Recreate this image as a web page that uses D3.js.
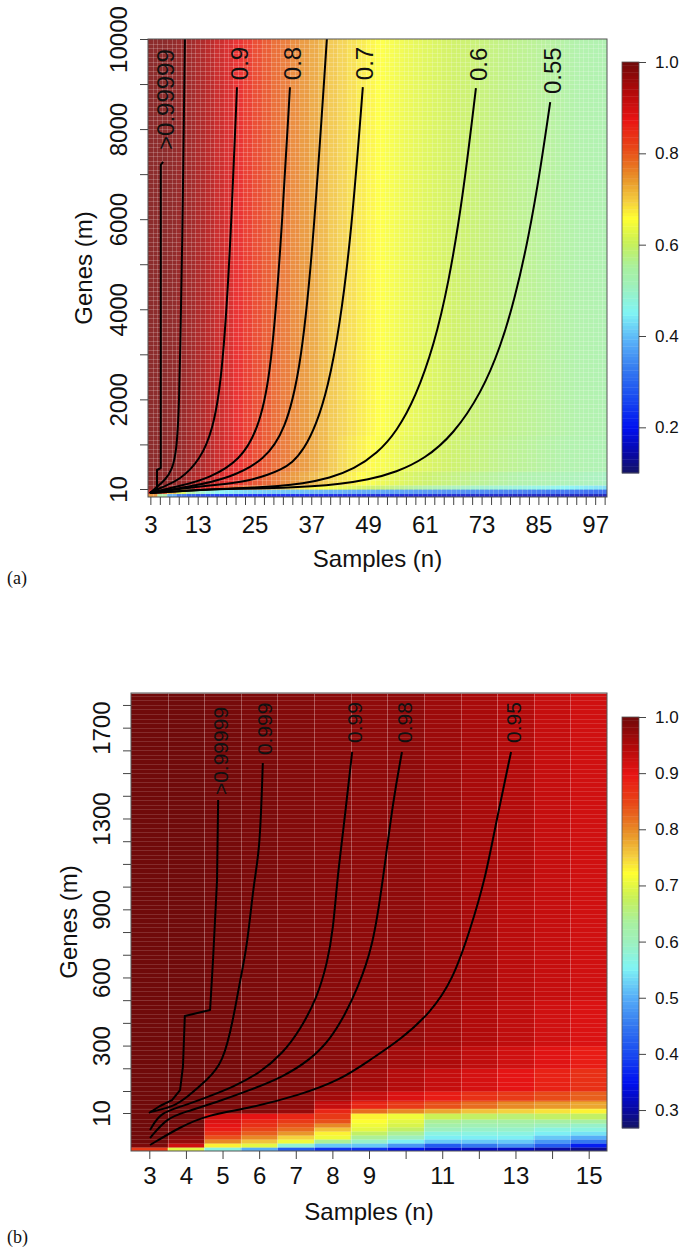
<!DOCTYPE html>
<html>
<head>
<meta charset="utf-8">
<script src="https://cdn.jsdelivr.net/npm/d3@7/dist/d3.min.js"></script>
<style>
html,body{margin:0;padding:0;background:#fff;}
svg{display:block;}
text{font-family:"Liberation Sans",Arial,Helvetica,sans-serif;fill:#111;}
</style>
</head>
<body>
<svg id="chart" width="683" height="1254"></svg>
<script>
// ================= DATA : panel (a) =================
const aSamples = [3,5,7,9,11,13,15,17,19,21,23,25,27,29,31,33,35,37,39,41,43,45,47,49,51,53,55,57,59,61,63,65,67,69,71,73,75,77,79,81,83,85,87,89,91,93,95,97,99];
const aRowEdges = [1,5,10,100,400,1200,10000];
const aRow_1_5 = [0.75,0.55,0.38,0.3,0.26,0.24,0.23,0.22,0.215,0.21,0.21,0.205,0.2,0.2,0.2,0.195,0.195,0.19,0.19,0.19,0.185,0.185,0.185,0.18,0.18,0.18,0.18,0.175,0.175,0.175,0.17,0.17,0.17,0.17,0.165,0.165,0.165,0.165,0.16,0.16,0.16,0.16,0.16,0.155,0.155,0.155,0.155,0.15,0.15];
const aRow_5_10 = [0.9,0.82,0.72,0.62,0.55,0.5,0.47,0.45,0.44,0.43,0.42,0.415,0.41,0.405,0.4,0.4,0.395,0.39,0.385,0.38,0.38,0.375,0.37,0.37,0.365,0.36,0.36,0.355,0.35,0.35,0.345,0.34,0.34,0.335,0.33,0.33,0.325,0.32,0.32,0.315,0.31,0.31,0.305,0.3,0.3,0.295,0.29,0.29,0.285];
const aRow_10_100 = [0.98,0.97,0.96,0.94,0.92,0.9,0.87,0.85,0.82,0.8,0.78,0.76,0.74,0.72,0.7,0.69,0.675,0.665,0.655,0.645,0.635,0.625,0.615,0.605,0.595,0.585,0.575,0.565,0.555,0.545,0.535,0.525,0.515,0.505,0.5,0.495,0.49,0.485,0.48,0.475,0.47,0.465,0.46,0.455,0.45,0.445,0.44,0.435,0.43];
const aRow_100_400 = [0.99,0.985,0.98,0.97,0.955,0.94,0.92,0.9,0.88,0.86,0.84,0.82,0.8,0.78,0.765,0.75,0.735,0.72,0.705,0.69,0.68,0.67,0.66,0.65,0.64,0.632,0.625,0.617,0.61,0.603,0.596,0.59,0.584,0.578,0.572,0.567,0.562,0.557,0.552,0.547,0.543,0.539,0.535,0.531,0.527,0.523,0.519,0.515,0.51];
const aRow_400_1200 = [0.99,0.99,0.985,0.975,0.965,0.95,0.935,0.915,0.895,0.875,0.855,0.835,0.815,0.795,0.78,0.765,0.75,0.735,0.72,0.705,0.69,0.68,0.67,0.66,0.652,0.645,0.638,0.631,0.625,0.619,0.613,0.607,0.601,0.595,0.59,0.585,0.58,0.575,0.571,0.567,0.563,0.559,0.555,0.551,0.547,0.544,0.541,0.538,0.535];
const aRow_1200_10000 = [0.99,0.99,0.985,0.975,0.965,0.95,0.935,0.915,0.895,0.875,0.855,0.835,0.815,0.795,0.78,0.765,0.75,0.735,0.72,0.705,0.695,0.685,0.675,0.665,0.657,0.65,0.643,0.636,0.63,0.624,0.618,0.612,0.606,0.6,0.595,0.59,0.585,0.58,0.576,0.572,0.568,0.564,0.56,0.556,0.552,0.548,0.545,0.542,0.54];
const aXLabels = [3,13,25,37,49,61,73,85,97];
const aYTicks = [10,1000,2000,3000,4000,5000,6000,7000,8000,9000,10000];
const aYLabels = [10,2000,4000,6000,8000,10000];
const aLegendTicks = [0.2,0.4,0.6,0.8,1.0];
const aColorDomain = [0.1,1.0];
// contour lines of panel (a): [samples n, genes m]
const aC_gt99999 = [[2.9,5.5],[4.4,10],[4.4,432],[5.2,476],[5.2,7203],[5.7,7270]];
const aC_hidden1 = [[2.9,5.5],[4.4,54],[6.1,210],[7.6,432],[8.6,876],[9.1,1986],[9.3,3096],[9.7,5090],[10.3,10000]];
const aC_09 = [[2.9,5.5],[5.0,32],[9.3,210],[13.5,654],[16.2,1320],[18.1,2430],[19.8,5090],[21.3,8930]];
const aC_08 = [[2.9,5.5],[9.3,77],[15.6,254],[22.0,654],[25.7,1320],[28.3,2430],[30.4,5090],[32.5,8930]];
const aC_hidden2 = [[2.9,5.5],[11.4,60],[19.8,254],[27.2,654],[31.5,1320],[34.6,2600],[37.2,5090],[40.3,10000]];
const aC_07 = [[2.9,5.5],[9.3,20],[19.8,130],[24,200],[28,330],[30.5,440],[33,590],[35.5,900],[38,1420],[40.5,2250],[43,3600],[45.5,5700],[47.9,8930]];
const aC_06 = [[2.9,5.5],[17.7,17],[25,40],[30,71],[35,127],[41,254],[46,453],[51,806],[55,1280],[59,2030],[63,3222],[66,4560],[69,6450],[71.8,8910]];
const aC_055 = [[2.9,5.5],[13.5,9],[19,12],[25,21.5],[31,38],[37,68],[43,121],[49,215],[55,383],[61,681],[67,1212],[73,2155],[77,3166],[80,4224],[83,5625],[85.5,7151],[87.5,8600]];

// ================= DATA : panel (b) =================
const bSamples = [3,4,5,6,7,8,9,10,11,12,13,14,15];
const bRowEdges = [0.5,1.5,2.5,3.5,4.5,5.5,6.5,7.5,8.5,10,30,60,100,200,300,500,1000,1850];
const bRow_m1 = [0.86,0.70,0.57,0.50,0.42,0.38,0.38,0.35,0.33,0.32,0.32,0.30,0.29];
const bRow_m2 = [0.99,0.92,0.73,0.70,0.58,0.52,0.52,0.48,0.42,0.45,0.47,0.42,0.36];
const bRow_m3 = [1.0,0.97,0.80,0.76,0.71,0.64,0.59,0.55,0.52,0.52,0.52,0.48,0.45];
const bRow_m4 = [1.0,0.98,0.84,0.80,0.75,0.71,0.64,0.60,0.55,0.55,0.55,0.52,0.50];
const bRow_m5 = [1.0,0.99,0.87,0.83,0.79,0.73,0.67,0.64,0.57,0.57,0.57,0.55,0.54];
const bRow_m6 = [1.0,0.99,0.89,0.85,0.82,0.76,0.70,0.67,0.60,0.59,0.59,0.57,0.57];
const bRow_m7 = [1.0,0.995,0.90,0.87,0.84,0.80,0.71,0.69,0.62,0.61,0.61,0.60,0.59];
const bRow_m8 = [1.0,1.0,0.91,0.88,0.86,0.84,0.72,0.70,0.64,0.63,0.63,0.63,0.63];
const bRow_m9 = [1.0,1.0,0.92,0.90,0.88,0.86,0.73,0.71,0.68,0.67,0.66,0.67,0.67];
const bRow_10_30 = [1.0,1.0,0.99,0.985,0.97,0.88,0.82,0.80,0.78,0.76,0.75,0.74,0.73];
const bRow_30_60 = [1.0,1.0,0.99,0.985,0.975,0.93,0.88,0.86,0.84,0.82,0.80,0.79,0.78];
const bRow_60_100 = [1.0,1.0,0.995,0.99,0.98,0.96,0.93,0.91,0.89,0.87,0.86,0.845,0.83];
const bRow_100_200 = [1.0,1.0,0.995,0.99,0.985,0.975,0.96,0.945,0.93,0.915,0.90,0.885,0.87];
const bRow_200_300 = [1.0,1.0,0.995,0.99,0.985,0.98,0.97,0.96,0.95,0.935,0.92,0.905,0.89];
const bRow_300_500 = [1.0,1.0,0.995,0.99,0.985,0.98,0.975,0.97,0.96,0.948,0.935,0.92,0.91];
const bRow_500_1000 = [1.0,1.0,0.995,0.99,0.985,0.98,0.975,0.975,0.965,0.955,0.94,0.93,0.92];
const bRow_1000_1850 = [1.0,1.0,0.995,0.99,0.985,0.98,0.975,0.975,0.965,0.955,0.945,0.93,0.92];
const bXLabels = [3,4,5,6,7,8,9,11,13,15];
const bYTicks = [10,100,200,300,400,500,600,700,800,900,1000,1100,1200,1300,1400,1500,1600,1700,1800];
const bYLabels = [10,300,600,900,1300,1700];
const bLegendTicks = [0.3,0.4,0.5,0.6,0.7,0.8,0.9,1.0];
const bColorDomain = [0.268,1.0];
const bC_gt99999 = [[2.99,10],[3.29,38.6],[3.62,63],[3.84,104],[3.92,210],[3.97,430],[4.66,457],[4.74,677],[4.85,1029],[4.88,1381]];
const bC_0999 = [[3.02,14],[3.65,34.5],[4.03,75],[4.58,148],[5.01,223],[5.29,413],[5.48,589],[5.67,734],[5.86,1029],[6.02,1161],[6.1,1544]];
const bC_099 = [[3.02,5.75],[3.29,10],[3.84,34.5],[4.58,75],[5.29,118],[6.02,179],[6.65,267],[7.12,369],[7.59,514],[7.86,664],[8.02,809],[8.13,1029],[8.29,1236],[8.54,1593]];
const bC_098 = [[3.02,3.75],[3.48,8.75],[3.97,14],[4.85,55],[5.75,104],[6.65,162],[7.39,237],[7.93,325],[8.34,435],[8.67,545],[9.11,734],[9.38,1029],[9.66,1381],[9.9,1593]];
const bC_095 = [[3.02,2],[3.84,6.5],[4.58,9.5],[5.75,30],[7.12,84],[8.21,148],[9.03,237],[9.85,325],[10.67,443],[11.29,589],[11.76,809],[12.17,1029],[12.5,1306],[12.88,1593]];

// ================= COLOUR RAMP =================
const rampT = [0,0.05,0.11,0.18,0.25,0.32,0.39,0.46,0.5,0.56,0.62,0.66,0.72,0.79,0.86,0.93,1];
const rampC = ["#141464","#0808a8","#0010f0","#1848f0","#3478f0","#58b0f8","#80f4f4","#a0f0b8","#a8f0a0","#c8f058","#ffff30","#f4d040","#e89028","#e84818","#e81414","#b00a0a","#700a0a"];
const ramp = d3.scaleLinear().domain(rampT).range(rampC).clamp(true);

const svg = d3.select("#chart");
const defs = svg.append("defs");

function drawPanel(p){
  const x = d3.scaleLinear().domain(p.xDomain).range([p.left,p.right]);
  const y = d3.scaleLinear().domain(p.yDomain).range(p.yRange);
  const col = v => ramp((v-p.cDomain[0])/(p.cDomain[1]-p.cDomain[0]));
  const g = svg.append("g");
  defs.append("clipPath").attr("id","clip-"+p.id).append("rect")
    .attr("x",p.left).attr("y",p.top).attr("width",p.right-p.left).attr("height",p.bottom-p.top);
  const plot = g.append("g").attr("clip-path",`url(#clip-${p.id})`);

  const cells = [];
  p.rows.forEach((row,i)=>row.forEach((v,j)=>{
    cells.push({lo:p.rowEdges[i],hi:p.rowEdges[i+1],
      s0:p.samples[j]-0.5,
      s1:j<p.samples.length-1 ? p.samples[j+1]-0.5 : p.xDomain[1], v});
  }));
  const cg = plot.append("g").attr("opacity",p.heatOpacity);
  cg.selectAll("rect").data(cells).join("rect")
    .attr("x",d=>x(d.s0)).attr("y",d=>y(d.hi))
    .attr("width",d=>x(d.s1)-x(d.s0)+0.6).attr("height",d=>y(d.lo)-y(d.hi)+0.6)
    .attr("fill",d=>col(d.v));

  // cell texture of the image plot
  plot.append("g").selectAll("line").data(p.gridX).join("line")
    .attr("x1",d=>Math.round(x(d))+0.5).attr("x2",d=>Math.round(x(d))+0.5)
    .attr("y1",p.top).attr("y2",p.bottom)
    .attr("stroke","#fff").attr("stroke-opacity",p.gridOpX).attr("stroke-width",1);
  plot.append("g").selectAll("line").data(p.gridY).join("line")
    .attr("y1",d=>Math.round(y(d))+0.5).attr("y2",d=>Math.round(y(d))+0.5)
    .attr("x1",p.left).attr("x2",p.right)
    .attr("stroke","#fff").attr("stroke-opacity",p.gridOpY).attr("stroke-width",1);

  // contour lines
  p.contours.forEach(c=>{
    const ln = d3.line().x(d=>x(d[0])).y(d=>y(d[1]))
      .curve(c.sharp ? d3.curveLinear : d3.curveBasis);
    plot.append("path").datum(c.pts).attr("d",ln)
      .attr("fill","none").attr("stroke","#000").attr("stroke-width",2).attr("stroke-linejoin","round");
  });
  // contour labels
  p.contours.filter(c=>c.label).forEach(c=>{
    const top = c.pts[c.pts.length-1];
    const lx = x(top[0]) + 2, ly = y(top[1]) - c.gap;
    g.append("text").attr("x",lx).attr("y",ly)
      .attr("transform",`rotate(-90,${lx},${ly})`)
      .attr("dy","0.36em").attr("text-anchor","start")
      .style("font-size",p.cLabelSize+"px").text(c.label);
  });

  // box
  g.append("rect").attr("x",p.left).attr("y",p.top)
    .attr("width",p.right-p.left).attr("height",p.bottom-p.top)
    .attr("fill","none").attr("stroke","#555").attr("stroke-width",1);

  // x axis
  const xa = g.append("g").attr("transform",`translate(0,${p.bottom})`)
    .call(d3.axisBottom(x).tickValues(p.samplesTicks).tickSize(8).tickPadding(p.xPad)
      .tickFormat(d=>p.xLabels.includes(d)?d:""));
  xa.select(".domain").remove();
  xa.selectAll("line").attr("stroke","#444");
  xa.selectAll("text").style("font-size",p.tickSize+"px").style("font-family",'"Liberation Sans",Arial,sans-serif').attr("fill","#111");

  // y axis
  const ya = g.append("g").attr("transform",`translate(${p.left},0)`)
    .call(d3.axisLeft(y).tickValues(p.yTicks).tickSize(8)
      .tickFormat(d=>p.yLabels.includes(d)?d:""));
  ya.select(".domain").remove();
  ya.selectAll("line").attr("stroke","#444");
  ya.selectAll("text").attr("x",0).attr("y",-p.yLabOff).attr("dy",0)
    .attr("transform","rotate(-90)").attr("text-anchor","middle")
    .style("font-size",p.tickSize+"px").style("font-family",'"Liberation Sans",Arial,sans-serif').attr("fill","#111");

  // titles
  g.append("text").attr("x",(p.left+p.right)/2).attr("y",p.xTitleY)
    .attr("text-anchor","middle").style("font-size","24px").text("Samples (n)");
  const ty = (p.top+p.bottom)/2;
  g.append("text").attr("x",p.yTitleX).attr("y",ty)
    .attr("transform",`rotate(-90,${p.yTitleX},${ty})`)
    .attr("text-anchor","middle").style("font-size","24px").text("Genes (m)");

  // colour bar
  const cb = d3.scaleLinear().domain(p.cDomain).range([p.cbBottom,p.cbTop]);
  const nSl = 120, step = (p.cDomain[1]-p.cDomain[0])/nSl;
  const slices = d3.range(nSl).map(k=>p.cDomain[0]+k*step);
  g.append("g").selectAll("rect").data(slices).join("rect")
    .attr("x",622).attr("width",17)
    .attr("y",d=>cb(d+step)).attr("height",d=>cb(d)-cb(d+step)+0.4)
    .attr("fill",d=>col(d+step/2));
  g.append("rect").attr("x",622).attr("y",p.cbTop).attr("width",17).attr("height",p.cbBottom-p.cbTop)
    .attr("fill","none").attr("stroke","#555").attr("stroke-width",0.8);
  const ca = g.append("g").attr("transform","translate(639,0)")
    .call(d3.axisRight(cb).tickValues(p.legendTicks).tickSize(7).tickPadding(9).tickFormat(d3.format(".1f")));
  ca.select(".domain").remove();
  ca.selectAll("line").attr("stroke","#444");
  ca.selectAll("text").style("font-size","17px").style("font-family",'"Liberation Sans",Arial,sans-serif').attr("fill","#111");

  // panel letter
  g.append("text").attr("x",p.letterX).attr("y",p.letterY)
    .style("font-family",'"Liberation Serif","Times New Roman",serif').style("font-size","18px").text(p.letter);
}

drawPanel({
  id:"a", letter:"(a)", letterX:7, letterY:584,
  left:148, right:607, top:39, bottom:497,
  xDomain:[2.5,99.5], yDomain:[1,10,10000], yRange:[497,489,39],
  cDomain:aColorDomain, cbTop:62, cbBottom:473, legendTicks:aLegendTicks,
  samples:aSamples, samplesTicks:aSamples, rowEdges:aRowEdges,
  rows:[aRow_1_5,aRow_5_10,aRow_10_100,aRow_100_400,aRow_400_1200,aRow_1200_10000],
  xLabels:aXLabels, yTicks:aYTicks, yLabels:aYLabels, heatOpacity:0.86,
  gridX:d3.range(3.5,99.5,1), gridY:d3.range(100,10000,100), gridOpX:0.2, gridOpY:0.2,
  tickSize:24, xPad:11, yLabOff:21, xTitleY:567, yTitleX:92, cLabelSize:24,
  contours:[
    {pts:aC_gt99999,label:">0.99999",gap:12,sharp:true},
    {pts:aC_hidden1},
    {pts:aC_09,label:"0.9",gap:7},
    {pts:aC_08,label:"0.8",gap:7},
    {pts:aC_hidden2},
    {pts:aC_07,label:"0.7",gap:7},
    {pts:aC_06,label:"0.6",gap:7},
    {pts:aC_055,label:"0.55",gap:8}
  ]
});

drawPanel({
  id:"b", letter:"(b)", letterX:7, letterY:1243,
  left:131, right:607, top:693, bottom:1151,
  xDomain:[2.5,15.5], yDomain:[0.5,10,100,1850], yRange:[1151,1113,1091,693.6],
  cDomain:bColorDomain, cbTop:717, cbBottom:1128, legendTicks:bLegendTicks,
  samples:bSamples, samplesTicks:bSamples, rowEdges:bRowEdges,
  rows:[bRow_m1,bRow_m2,bRow_m3,bRow_m4,bRow_m5,bRow_m6,bRow_m7,bRow_m8,bRow_m9,
        bRow_10_30,bRow_30_60,bRow_60_100,bRow_100_200,bRow_200_300,bRow_300_500,bRow_500_1000,bRow_1000_1850],
  xLabels:bXLabels, yTicks:bYTicks, yLabels:bYLabels, heatOpacity:1,
  gridX:d3.range(3.5,15.5,1), gridY:[1.5,2.5,3.5,4.5,5.5,6.5,7.5,8.5].concat(d3.range(10,100,18), d3.range(100,1850,20)),
  gridOpX:0.3, gridOpY:0.14,
  tickSize:24, xPad:8, yLabOff:21, xTitleY:1220, yTitleX:77, cLabelSize:21,
  contours:[
    {pts:bC_gt99999,label:">0.99999",gap:5,sharp:true},
    {pts:bC_0999,label:"0.999",gap:8},
    {pts:bC_099,label:"0.99",gap:9},
    {pts:bC_098,label:"0.98",gap:9},
    {pts:bC_095,label:"0.95",gap:9}
  ]
});
</script>
</body>
</html>
